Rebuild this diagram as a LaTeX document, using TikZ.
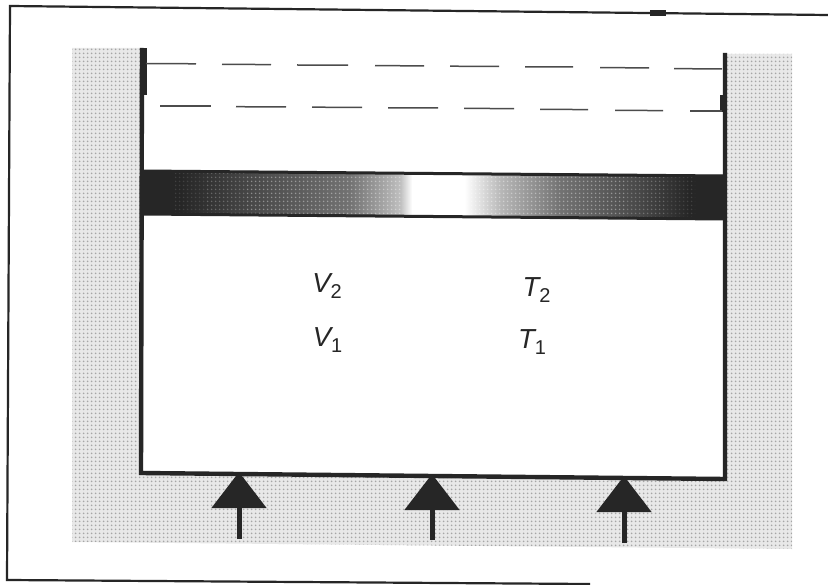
\documentclass[tikz,border=0pt]{standalone}
\usepackage{fontspec}
\setmainfont{Liberation Sans}
\usetikzlibrary{arrows.meta,patterns.meta}
\definecolor{ink}{HTML}{262626}
\definecolor{ground}{HTML}{E8E8E8}
\definecolor{grain}{HTML}{A6A6A6}
\pgfdeclarehorizontalshading{pistonshade}{100bp}{
 color(0bp)=(ink); color(25bp)=(ink); color(28.3bp)=(ink); color(34.3bp)=(black!72);
 color(42.9bp)=(black!55); color(47.2bp)=(black!25); color(48.2bp)=(white);
 color(52.7bp)=(white); color(55.8bp)=(black!28); color(60.9bp)=(black!55); color(67.8bp)=(black!72);
 color(72bp)=(black!85); color(75bp)=(ink); color(100bp)=(ink)}
\newcommand\lbl[2]{\fontsize{27.5}{27.5}\selectfont\itshape #1\raisebox{-6pt}{\fontsize{20}{20}\selectfont\upshape #2}}
\tikzset{
  frameline/.style={draw=ink,line width=2.2pt},
  wall/.style={draw=ink,line width=4.4pt,line cap=butt,line join=miter},
  dashline/.style={draw=black!70,line width=1.5pt},
  heat/.style={draw=ink,fill=ink,line width=5pt,-{Triangle[width=54pt,length=36pt]}},
  textlabel/.style={inner sep=0pt,text=ink},
  halftone/.style={pattern={Dots[distance=4pt,radius=1pt]},pattern color=white,opacity=#1}
}
\begin{document}
\begin{tikzpicture}[x=1pt,y=-1pt]
\useasboundingbox (0,0) rectangle (828,585);
\fill[white] (0,0) rectangle (828,585);
% outer frame
\coordinate (fa) at (10,6);
\coordinate (fb) at (828,15);
\coordinate (fc) at (7,580);
\coordinate (fd) at (590,584);
\draw[frameline] (fb) -- (fa) -- (fc) -- (fd);
\fill[ink] (650,10.5) rectangle (666,16.5);
% surrounding granular ground
\path[fill=ground] (72,48) -- (142,48) -- (141,473) -- (725,479) -- (725,54) -- (792,54) -- (792,549) -- (72,542) -- cycle;
\path[pattern={Dots[distance=4pt,radius=1.15pt]},pattern color=grain]
  (72,48) -- (142,48) -- (141,473) -- (725,479) -- (725,54) -- (792,54) -- (792,549) -- (72,542) -- cycle;
% piston
\path[shading=pistonshade] (142,170) -- (724,175) -- (724,220) -- (142,214) -- cycle;
\path[halftone=.12] (175,174) rectangle (205,213);
\path[halftone=.25] (205,174) rectangle (245,214);
\path[halftone=.38] (245,175) rectangle (403,215);
\path[halftone=.38] (467,176) rectangle (625,217);
\path[halftone=.25] (625,177) rectangle (665,218);
\path[halftone=.12] (665,177) rectangle (695,218);
\draw[draw=ink,line width=3pt] (142,171) -- (724,176);
\draw[draw=ink,line width=3pt] (142,214) -- (724,219);
% cylinder walls
\coordinate (wa) at (142,48);
\coordinate (wb) at (141,473);
\coordinate (wc) at (725,479);
\coordinate (wd) at (725,53);
\draw[wall] (wa) -- (wb) -- (wc) -- (wd);
\fill[ink] (141,48) rectangle (147,95);
\fill[ink] (720,95) rectangle (725,112);
% upper position dashes
\foreach \a/\b/\ya/\yb in {146/196/63.5/63.8,222/271/64.3/64.6,297/348/65/65.2,375/424/65.6/65.9,450/499/66.2/66.5,525/573/66.8/67,600/649/67.6/67.9,674/722/68.6/69}
  \draw[dashline] (\a,\ya) -- (\b,\yb);
\foreach \a/\b/\ya/\yb in {160/211/106/106,236/286/106.7/107,312/362/107.2/107.4,388/438/107.8/108,464/514/108.4/108.6,540/588/109.3/109.6,615/663/110.3/110.6,690/722/111/111}
  \draw[dashline] (\a,\ya) -- (\b,\yb);
% labels
\node[textlabel] (v2) at (327,286) {\lbl{V}{2}};
\node[textlabel] (v1) at (327.5,340) {\lbl{V}{1}};
\node[textlabel] (t2) at (536.5,290) {\lbl{T}{2}};
\node[textlabel] (t1) at (532,342) {\lbl{T}{1}};
% heat arrows
\coordinate (h1a) at (239,539);
\coordinate (h1b) at (239,472);
\coordinate (h2a) at (432,540);
\coordinate (h2b) at (432,474);
\coordinate (h3a) at (624,543);
\coordinate (h3b) at (624,476);
\draw[heat] (h1a) -- (h1b);
\draw[heat] (h2a) -- (h2b);
\draw[heat] (h3a) -- (h3b);
\end{tikzpicture}
\end{document}
